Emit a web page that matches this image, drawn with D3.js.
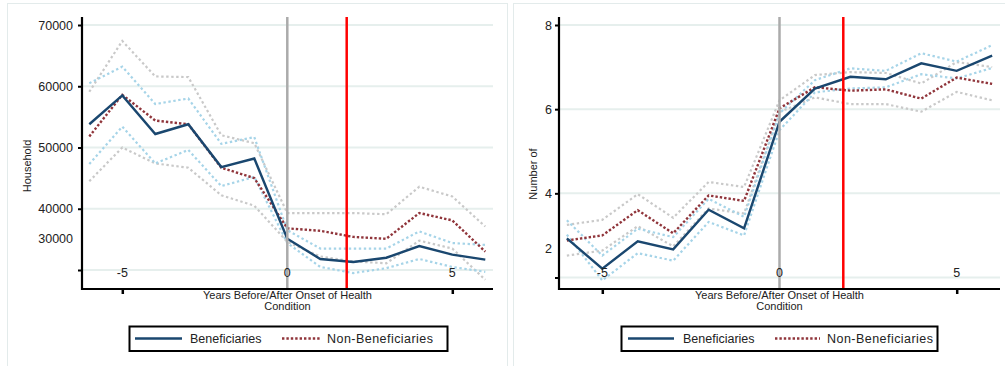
<!DOCTYPE html>
<html>
<head>
<meta charset="utf-8">
<script src="https://cdn.jsdelivr.net/npm/d3@7"></script>
<style>
    body { margin: 0; background: #fff; }
    svg { display: block; font-family: "Liberation Sans", Arial, sans-serif; }
</style>
</head>
<body>
<svg id="chart" width="1005" height="366"></svg>
<script>
// years relative to onset of the health condition
const years = [-6, -5, -4, -3, -2, -1, 0, 1, 2, 3, 4, 5, 6];

// left panel: household values
const incomeBenef    = [53800, 58500, 52200, 53800, 46800, 48200, 35100, 31800, 31300, 32000, 33900, 32500, 31700];
const incomeNonBenef = [51800, 58600, 54400, 53800, 46700, 45000, 36800, 36400, 35400, 35100, 39300, 38100, 33000];
const incomeBenefHi  = [60500, 63200, 57100, 58000, 50600, 51700, 36500, 33500, 33500, 33500, 36300, 34400, 34100];
const incomeBenefLo  = [47300, 53400, 47400, 49600, 43700, 45200, 34400, 30500, 29500, 30300, 31800, 30500, 29700];
const incomeNonHi    = [59100, 67400, 61600, 61500, 52000, 50700, 39300, 39300, 39300, 39100, 43600, 42000, 37100];
const incomeNonLo    = [44500, 50000, 47400, 46700, 42200, 40500, 34600, 32200, 31400, 31100, 34800, 33500, 28400];

// right panel: number of ...
const countBenef    = [2.93, 2.21, 2.86, 2.67, 3.61, 3.17, 5.70, 6.49, 6.77, 6.71, 7.09, 6.91, 7.27];
const countNonBenef = [2.88, 3.00, 3.60, 3.05, 3.95, 3.82, 6.02, 6.52, 6.44, 6.47, 6.25, 6.75, 6.60];
const countBenefHi  = [3.36, 2.52, 3.16, 2.96, 3.87, 3.44, 5.90, 6.69, 6.97, 6.91, 7.33, 7.13, 7.52];
const countBenefLo  = [3.02, 1.93, 2.58, 2.40, 3.32, 3.00, 5.50, 6.40, 6.49, 6.52, 6.83, 6.73, 6.98];
const countNonHi    = [3.25, 3.37, 3.98, 3.42, 4.27, 4.15, 6.21, 6.81, 6.88, 6.86, 6.61, 7.12, 7.00];
const countNonLo    = [2.52, 2.64, 3.22, 2.74, 3.64, 3.52, 5.93, 6.28, 6.12, 6.12, 5.94, 6.41, 6.21];

// ticks
const xTickLabels = [-5, 0, 5];
const xTickMarks = [-5, 5];
const incomeTicks = [70000, 60000, 50000, 40000, 30000];
const incomeTickLabels = ['70000', '60000', '50000', '40000', ''];
const incomeStrayLabel = [35000, '30000'];
const countTicks = [8, 6, 4, 2];
const countTickLabels = ['8', '6', '4', ''];
const countStrayLabel = [2.67, '2'];

const onsetYear = 0;
const cutoffYear = 1.8;
const legendLabels = ['Beneficiaries', 'Non-Beneficiaries'];
const xTitle = ['Years Before/After Onset of Health', 'Condition'];

const colors = {
    benef: '#1a476f',
    nonBenef: '#90353b',
    benefCi: '#a6d4e8',
    nonCi: '#c9c9c9',
    grid: '#e6efed',
    onset: '#ababab',
    cutoff: '#ff0000',
    frame: '#e3ebeb'
};

const svg = d3.select('#chart');

drawPanel({
    frame: [7, 3, 500, 400],
    left: 82, right: 493, top: 17, bottom: 289,
    xRange: [122.3, 452.3],
    yDomain: [30000, 70000], yRange: [270, 25],
    yTicks: incomeTicks, yLabels: incomeTickLabels, stray: incomeStrayLabel,
    tickPad: 5,
    yTitle: 'Household', yTitleX: 27, yTitleY: 166,
    series: {
        benef: incomeBenef, nonBenef: incomeNonBenef,
        benefHi: incomeBenefHi, benefLo: incomeBenefLo,
        nonHi: incomeNonHi, nonLo: incomeNonLo
    },
    legend: { x: 129.5, w: 318, lineA: [135, 182], textA: 190, lineB: [282, 320], textB: 327 }
});

drawPanel({
    frame: [513, 3, 500, 400],
    left: 559, right: 1000, top: 17, bottom: 289,
    xRange: [602.3, 956.7],
    yDomain: [2, 8], yRange: [277.5, 25],
    yTicks: countTicks, yLabels: countTickLabels, stray: countStrayLabel,
    tickPad: 3,
    yTitle: 'Number of', yTitleX: 533, yTitleY: 174,
    series: {
        benef: countBenef, nonBenef: countNonBenef,
        benefHi: countBenefHi, benefLo: countBenefLo,
        nonHi: countNonHi, nonLo: countNonLo
    },
    legend: { x: 621.5, w: 316, lineA: [628, 674], textA: 683, lineB: [775, 820], textB: 827 }
});

function drawPanel(p) {
    const g = svg.append('g');

    g.append('rect')
        .attr('x', p.frame[0] + 0.5).attr('y', p.frame[1] + 0.5)
        .attr('width', p.frame[2]).attr('height', p.frame[3])
        .attr('fill', 'none').attr('stroke', colors.frame);

    const x = d3.scaleLinear().domain([-5, 5]).range(p.xRange);
    const y = d3.scaleLinear().domain(p.yDomain).range(p.yRange);

    // grid
    g.selectAll('line.grid')
        .data(p.yTicks)
        .join('line')
        .classed('grid', true)
        .attr('x1', p.left).attr('x2', p.right)
        .attr('y1', d => y(d)).attr('y2', d => y(d))
        .attr('stroke', colors.grid).attr('stroke-width', 2);

    // lines
    const line = d3.line()
        .x((d, i) => x(years[i]))
        .y(d => y(d));

    const styles = [
        ['nonHi', colors.nonCi, 2.2, '2.4,2.6'],
        ['nonLo', colors.nonCi, 2.2, '2.4,2.6'],
        ['benefHi', colors.benefCi, 2.2, '2.4,2.6'],
        ['benefLo', colors.benefCi, 2.2, '2.4,2.6'],
        ['nonBenef', colors.nonBenef, 2.4, '2.4,2'],
        ['benef', colors.benef, 2.4, null]
    ];
    styles.forEach(([key, color, w, dash]) => {
        g.append('path')
            .datum(p.series[key])
            .attr('d', line)
            .attr('fill', 'none')
            .attr('stroke', color)
            .attr('stroke-width', w)
            .attr('stroke-dasharray', dash);
    });

    // reference lines
    [[onsetYear, colors.onset], [cutoffYear, colors.cutoff]].forEach(([v, c]) => {
        g.append('line')
            .attr('x1', x(v)).attr('x2', x(v))
            .attr('y1', p.top).attr('y2', p.bottom - 1)
            .attr('stroke', c).attr('stroke-width', 2.5);
    });

    // inner x labels, over the reference lines
    g.selectAll('text.xlab')
        .data(xTickLabels)
        .join('text')
        .classed('xlab', true)
        .attr('x', d => x(d))
        .attr('y', 276.5)
        .attr('text-anchor', 'middle')
        .attr('font-size', 12.5)
        .attr('fill', '#222')
        .text(d => d);

    // y axis
    const yAxis = d3.axisLeft(y)
        .tickValues(p.yTicks)
        .tickFormat((d, i) => p.yLabels[i])
        .tickSize(4)
        .tickPadding(p.tickPad);
    const elY = g.append('g')
        .attr('transform', `translate(${p.left},0)`)
        .call(yAxis);
    elY.select('.domain').remove();
    elY.selectAll('.tick line').attr('stroke', '#000').attr('stroke-width', 2);
    elY.selectAll('.tick text')
        .attr('font-size', 12.5).attr('fill', '#222')
        .attr('font-family', 'Liberation Sans, Arial, sans-serif');

    g.append('text')
        .attr('x', p.left - 4 - p.tickPad)
        .attr('y', y(p.stray[0]))
        .attr('dy', '0.32em')
        .attr('text-anchor', 'end')
        .attr('font-size', 12.5)
        .attr('fill', '#222')
        .text(p.stray[1]);

    // x axis
    const xAxis = d3.axisBottom(x)
        .tickValues(xTickMarks)
        .tickFormat('')
        .tickSize(5);
    const elX = g.append('g')
        .attr('transform', `translate(0,${p.bottom})`)
        .call(xAxis);
    elX.select('.domain').remove();
    elX.selectAll('.tick line').attr('stroke', '#000').attr('stroke-width', 2.5);

    g.append('line')
        .attr('x1', p.left).attr('x2', p.left)
        .attr('y1', p.top).attr('y2', p.bottom + 1)
        .attr('stroke', '#000').attr('stroke-width', 2.2);
    g.append('line')
        .attr('x1', p.left - 1).attr('x2', p.right)
        .attr('y1', p.bottom).attr('y2', p.bottom)
        .attr('stroke', '#000').attr('stroke-width', 2.2);

    // titles
    const cx = (p.left + p.right) / 2;
    g.selectAll('text.xtitle')
        .data(xTitle)
        .join('text')
        .classed('xtitle', true)
        .attr('x', cx)
        .attr('y', (d, i) => 299 + i * 11)
        .attr('text-anchor', 'middle')
        .attr('font-size', 11)
        .attr('fill', '#222')
        .text(d => d);

    g.append('text')
        .attr('transform', `translate(${p.yTitleX},${p.yTitleY}) rotate(-90)`)
        .attr('dy', '0.35em')
        .attr('text-anchor', 'middle')
        .attr('font-size', 11)
        .attr('fill', '#222')
        .text(p.yTitle);

    // legend
    const lg = p.legend;
    const ly = 338.5;
    g.append('rect')
        .attr('x', lg.x).attr('y', 326.5)
        .attr('width', lg.w).attr('height', 24.5)
        .attr('fill', '#fff').attr('stroke', '#000').attr('stroke-width', 2);
    g.append('line')
        .attr('x1', lg.lineA[0]).attr('x2', lg.lineA[1])
        .attr('y1', ly).attr('y2', ly)
        .attr('stroke', colors.benef).attr('stroke-width', 2.4);
    g.append('line')
        .attr('x1', lg.lineB[0]).attr('x2', lg.lineB[1])
        .attr('y1', ly).attr('y2', ly)
        .attr('stroke', colors.nonBenef).attr('stroke-width', 2.4)
        .attr('stroke-dasharray', '2.4,2');
    g.selectAll('text.leg')
        .data(legendLabels)
        .join('text')
        .classed('leg', true)
        .attr('x', (d, i) => i ? lg.textB : lg.textA)
        .attr('y', ly)
        .attr('dy', '0.35em')
        .attr('font-size', 12.5)
        .attr('fill', '#222')
        .attr('textLength', (d, i) => i ? 106 : null)
        .text(d => d);
}
</script>
</body>
</html>
